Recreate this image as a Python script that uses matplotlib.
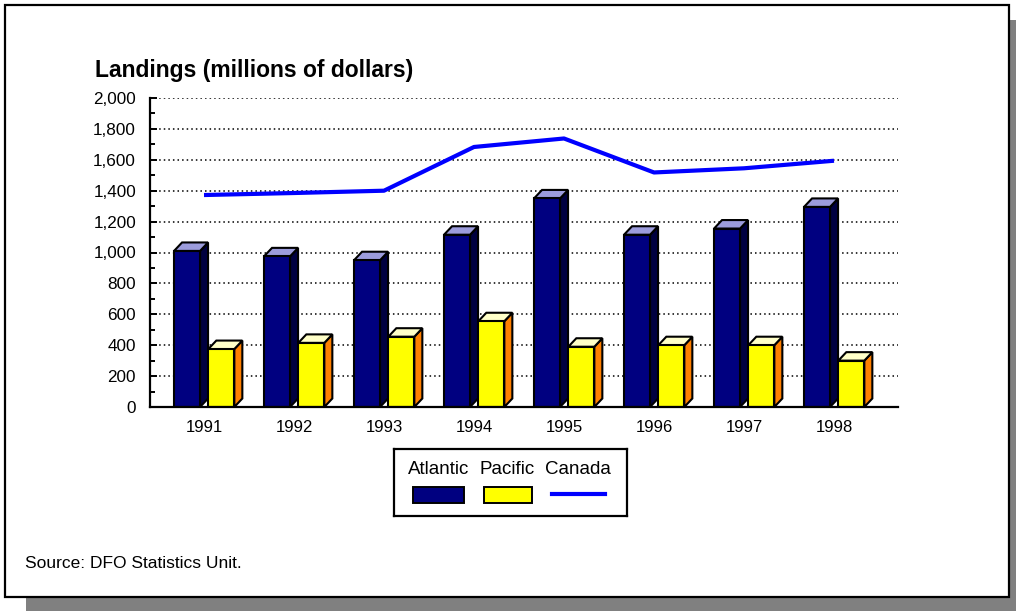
import matplotlib.pyplot as plt
from matplotlib.patches import Polygon, Rectangle
from matplotlib.lines import Line2D
from matplotlib.ticker import MultipleLocator, FuncFormatter

# ==============================
# DATA (millions of dollars)
# ==============================
YEARS = ["1991", "1992", "1993", "1994", "1995", "1996", "1997", "1998"]
ATLANTIC = [1010, 975, 950, 1115, 1350, 1115, 1155, 1295]
PACIFIC = [375, 415, 455, 555, 390, 400, 400, 300]
CANADA = [1372, 1385, 1400, 1683, 1738, 1518, 1545, 1594]

TITLE = "Landings (millions of dollars)"
SOURCE = "Source: DFO Statistics Unit."

# ==============================
# STYLE
# ==============================
W, H = 1016, 611
plt.rcParams["font.family"] = ["Liberation Sans", "DejaVu Sans"]

ATL_COLORS = ("#000080", "#9c9cdc", "#000040")   # front, top, side
PAC_COLORS = ("#ffff00", "#ffffc8", "#ff8000")
LINE_COLOR = "#0000ff"

BAR_W = 0.289
DX = 0.089      # 3d depth along x (data units)
DY = 55         # 3d depth along y (data units)


def px_axes(fig, x0, y0, x1, y1):
    """Axes placed in pixel coordinates (top-left origin)."""
    a = fig.add_axes([x0 / W, 1 - y1 / H, (x1 - x0) / W, (y1 - y0) / H])
    return a


def bar3d(ax, x0, value, colors):
    front, top, side = colors
    x1 = x0 + BAR_W
    kw = dict(edgecolor="black", linewidth=1.5, joinstyle="miter", zorder=3)
    ax.add_patch(Polygon([(x1, 0), (x1 + DX, DY), (x1 + DX, value + DY), (x1, value)],
                         facecolor=side, **kw))
    ax.add_patch(Polygon([(x0, value), (x0 + DX, value + DY), (x1 + DX, value + DY), (x1, value)],
                         facecolor=top, **kw))
    ax.add_patch(Rectangle((x0, 0), BAR_W, value, facecolor=front, **kw))


def main():
    fig = plt.figure(figsize=(W / 100, H / 100), dpi=100)

    # ------------------------------
    # Frame with drop shadow
    # ------------------------------
    bg = fig.add_axes([0, 0, 1, 1], zorder=-5)
    bg.set_xlim(0, W)
    bg.set_ylim(H, 0)
    bg.axis("off")
    bg.add_patch(Rectangle((26, 597), W - 26, 14, facecolor="#808080", edgecolor="none"))
    bg.add_patch(Rectangle((1009, 20), 7, H - 20, facecolor="#808080", edgecolor="none"))
    bg.add_patch(Rectangle((5, 5), 1004, 592, facecolor="white", edgecolor="black", linewidth=1.6))

    # ------------------------------
    # Main chart
    # ------------------------------
    ax = px_axes(fig, 150, 98, 898, 407)
    ax.set_facecolor("none")
    xs = list(range(len(YEARS)))

    ax.set_xlim(-0.6, len(YEARS) - 1 + 64 / 90)
    ax.set_ylim(0, 2000)

    for v in range(200, 2001, 200):
        ax.axhline(v, color="black", linewidth=1.1, linestyle=(0, (1, 2)), zorder=1)

    for i in xs:
        bar3d(ax, i - 0.333, ATLANTIC[i], ATL_COLORS)
        bar3d(ax, i + 0.048, PACIFIC[i], PAC_COLORS)

    ax.plot(xs, CANADA, color=LINE_COLOR, linewidth=3, zorder=4, solid_capstyle="butt")

    for s in ("top", "right"):
        ax.spines[s].set_visible(False)
    ax.spines["left"].set_linewidth(1.6)
    ax.spines["bottom"].set_linewidth(1.6)
    ax.spines["left"].set_zorder(5)
    ax.spines["bottom"].set_zorder(5)

    ax.yaxis.set_major_locator(MultipleLocator(200))
    ax.yaxis.set_minor_locator(MultipleLocator(100))
    ax.yaxis.set_major_formatter(FuncFormatter(lambda v, p: f"{int(v):,}"))
    ax.tick_params(axis="y", which="major", direction="in", length=5, width=1.4,
                   labelsize=12.3, pad=10)
    ax.tick_params(axis="y", which="minor", direction="in", length=3.5, width=1.4)

    ax.set_xticks(xs)
    ax.set_xticklabels(YEARS)
    ax.tick_params(axis="x", length=0, labelsize=12, pad=9)

    # ------------------------------
    # Title and source
    # ------------------------------
    fig.text(95 / W, 1 - 71 / H, TITLE, fontsize=16.5, fontweight="bold", va="center", ha="left")
    fig.text(25 / W, 1 - 563 / H, SOURCE, fontsize=12.5, va="center", ha="left")

    # ------------------------------
    # Legend (labels above keys)
    # ------------------------------
    lg = px_axes(fig, 394, 449, 627, 516)
    lg.set_xlim(394, 627)
    lg.set_ylim(516, 449)
    lg.set_xticks([])
    lg.set_yticks([])
    for s in lg.spines.values():
        s.set_linewidth(1.6)
    lg.text(438.5, 470, "Atlantic", fontsize=13.5, ha="center", va="center")
    lg.text(507.5, 470, "Pacific", fontsize=13.5, ha="center", va="center")
    lg.text(577.5, 470, "Canada", fontsize=13.5, ha="center", va="center")
    lg.add_patch(Rectangle((413, 487), 51, 16, facecolor=ATL_COLORS[0], edgecolor="black", linewidth=1.4))
    lg.add_patch(Rectangle((484, 487), 48, 16, facecolor=PAC_COLORS[0], edgecolor="black", linewidth=1.4))
    lg.add_line(Line2D([552, 605], [494, 494], color=LINE_COLOR, linewidth=3))

    fig.savefig("out.png", dpi=100)
    plt.close(fig)


if __name__ == "__main__":
    main()
